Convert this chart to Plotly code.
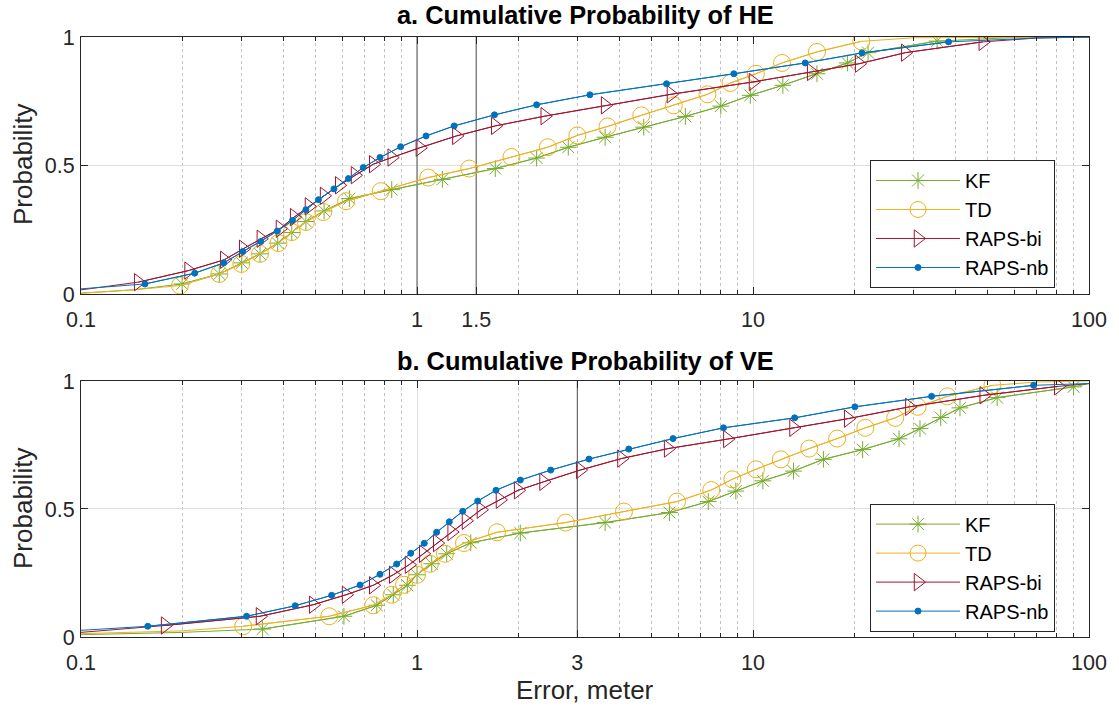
import plotly.graph_objects as go

# ---------------- data ----------------
series_names = ["KF", "TD", "RAPS-bi", "RAPS-nb"]

# a. horizontal error (HE) - marker points
he_kf_x = [0.20, 0.258, 0.301, 0.341, 0.385, 0.424, 0.467, 0.529, 0.629, 0.841, 1.19, 1.71,
           2.27, 2.82, 3.63, 4.73, 6.29, 8.02, 9.82, 12.27, 15.5, 19.1, 22.0, 35.3]
he_kf_y = [0.039, 0.078, 0.121, 0.156, 0.198, 0.239, 0.282, 0.323, 0.371, 0.406, 0.446, 0.488,
           0.529, 0.571, 0.610, 0.649, 0.691, 0.731, 0.773, 0.812, 0.857, 0.899, 0.939, 0.984]
he_td_x = [0.197, 0.258, 0.30, 0.341, 0.387, 0.424, 0.467, 0.526, 0.615, 0.78, 1.08, 1.43,
           1.91, 2.45, 3.0, 3.69, 4.65, 5.81, 7.32, 8.57, 10.2, 12.2, 15.5, 21.0]
he_td_y = [0.033, 0.078, 0.117, 0.156, 0.198, 0.241, 0.28, 0.319, 0.361, 0.40, 0.453, 0.488,
           0.533, 0.571, 0.617, 0.652, 0.695, 0.734, 0.777, 0.821, 0.857, 0.899, 0.942, 0.983]
he_bi_x = [0.148, 0.209, 0.267, 0.304, 0.343, 0.391, 0.431, 0.477, 0.529, 0.587, 0.654, 0.741,
           0.841, 1.02, 1.31, 1.71, 2.40, 3.63, 5.70, 10.0, 14.9, 20.7, 28.4, 48.3]
he_bi_y = [0.046, 0.091, 0.133, 0.176, 0.215, 0.254, 0.299, 0.341, 0.382, 0.423, 0.462, 0.505,
           0.531, 0.569, 0.615, 0.654, 0.692, 0.734, 0.777, 0.825, 0.864, 0.896, 0.939, 0.981]
he_nb_x = [0.155, 0.218, 0.266, 0.303, 0.343, 0.384, 0.426, 0.467, 0.509, 0.566, 0.625, 0.692,
           0.776, 0.894, 1.064, 1.29, 1.70, 2.27, 3.27, 5.53, 8.77, 14.3, 21.1, 38.2]
he_nb_y = [0.039, 0.081, 0.121, 0.165, 0.204, 0.245, 0.286, 0.328, 0.367, 0.409, 0.449, 0.492,
           0.531, 0.573, 0.615, 0.654, 0.697, 0.736, 0.775, 0.818, 0.857, 0.899, 0.938, 0.981]
# extra line-only points before / after the markers
he_head_x = [[0.1, 0.143], [0.1, 0.143], [0.1], [0.1]]
he_head_y = [[0.003, 0.016], [0.003, 0.016], [0.016], [0.020]]
he_tail_x = [[60, 100], [30, 100], [70, 100], [70, 100]]
he_tail_y = [[0.998, 1.0], [0.997, 1.0], [0.996, 1.0], [0.996, 1.0]]

# b. vertical error (VE) - marker points
ve_kf_x = [0.347, 0.606, 0.759, 0.85, 0.936, 1.0, 1.106, 1.226, 1.445, 2.03, 3.63, 5.64,
           7.36, 8.89, 10.7, 13.2, 16.2, 21.2, 27.2, 31.4, 36.2, 41.3, 53.3, 90.0]
ve_kf_y = [0.031, 0.081, 0.124, 0.165, 0.202, 0.243, 0.286, 0.325, 0.368, 0.406, 0.447, 0.486,
           0.529, 0.570, 0.610, 0.648, 0.694, 0.732, 0.774, 0.814, 0.857, 0.895, 0.935, 0.977]
ve_td_x = [0.304, 0.548, 0.741, 0.841, 0.915, 1.0, 1.093, 1.211, 1.38, 1.73, 2.77, 4.13,
           5.94, 7.51, 8.68, 10.2, 12.1, 14.7, 17.8, 21.6, 26.5, 30.9, 37.9, 51.6]
ve_td_y = [0.042, 0.081, 0.124, 0.165, 0.204, 0.243, 0.286, 0.325, 0.367, 0.409, 0.447, 0.490,
           0.529, 0.574, 0.616, 0.655, 0.694, 0.736, 0.775, 0.817, 0.856, 0.899, 0.940, 0.983]
ve_bi_x = [0.178, 0.341, 0.491, 0.615, 0.741, 0.85, 0.947, 1.044, 1.149, 1.268, 1.399, 1.55,
           1.766, 2.0, 2.38, 3.06, 4.06, 5.59, 8.39, 13.2, 19.2, 29.2, 48.6, 81.0]
ve_bi_y = [0.045, 0.081, 0.126, 0.165, 0.202, 0.243, 0.282, 0.325, 0.367, 0.410, 0.454, 0.497,
           0.536, 0.573, 0.606, 0.652, 0.697, 0.736, 0.773, 0.817, 0.853, 0.899, 0.944, 0.979]
ve_nb_x = [0.158, 0.311, 0.434, 0.557, 0.677, 0.776, 0.870, 0.958, 1.051, 1.144, 1.248, 1.368,
           1.516, 1.718, 2.03, 2.50, 3.25, 4.27, 5.78, 8.17, 13.3, 20.1, 34.0, 68.4]
ve_nb_y = [0.042, 0.081, 0.122, 0.163, 0.203, 0.245, 0.285, 0.327, 0.366, 0.409, 0.450, 0.491,
           0.531, 0.573, 0.613, 0.652, 0.695, 0.734, 0.775, 0.817, 0.856, 0.899, 0.940, 0.983]
ve_head_x = [[0.1, 0.2], [0.1, 0.2], [0.1], [0.1]]
ve_head_y = [[0.009, 0.018], [0.013, 0.024], [0.018], [0.026]]
ve_tail_x = [[100], [70, 100], [100], [100]]
ve_tail_y = [[0.99], [0.996, 1.0], [0.99], [0.99]]

he_ticks = [0.1, 1, 1.5, 10, 100]
he_ticktext = ["0.1", "1", "1.5", "10", "100"]
ve_ticks = [0.1, 1, 3, 10, 100]
ve_ticktext = ["0.1", "1", "3", "10", "100"]
y_ticks = [0, 0.5, 1]
y_ticktext = ["0", "0.5", "1"]
he_marklines = [1, 1.5]
ve_marklines = [3]
titles = ["a. Cumulative Probability of HE", "b. Cumulative Probability of VE"]
y_label = "Probability"
x_label = "Error, meter"

# ---------------- styles ----------------
colors = ["#77AC30", "#EDB120", "#A2142F", "#0072BD"]
symbols = ["asterisk-open", "circle-open", "triangle-right-open", "circle"]
msizes = [14, 17, 15, 6]
FONT = "Liberation Sans, Arial, Helvetica, sans-serif"
AX = "#262626"

minor_vals = [m * 10 ** e for e in (-1, 0, 1) for m in range(2, 10)]

fig = go.Figure()

panels = [
    ("x", "y", "legend", he_marklines,
     [(he_kf_x, he_kf_y), (he_td_x, he_td_y), (he_bi_x, he_bi_y), (he_nb_x, he_nb_y)],
     he_head_x, he_head_y, he_tail_x, he_tail_y),
    ("x2", "y2", "legend2", ve_marklines,
     [(ve_kf_x, ve_kf_y), (ve_td_x, ve_td_y), (ve_bi_x, ve_bi_y), (ve_nb_x, ve_nb_y)],
     ve_head_x, ve_head_y, ve_tail_x, ve_tail_y),
]

for xa, ya, lg, marks, data, hx, hy, tx, ty in panels:
    # dark reference lines (drawn first, beneath the curves)
    for v in marks:
        fig.add_trace(go.Scatter(
            x=[v, v], y=[0, 1], mode="lines", line=dict(color="#505050", width=1),
            xaxis=xa, yaxis=ya, showlegend=False, hoverinfo="skip"))
    for i, (mx, my) in enumerate(data):
        # full line
        fig.add_trace(go.Scatter(
            x=hx[i] + mx + tx[i], y=hy[i] + my + ty[i], mode="lines",
            line=dict(color=colors[i], width=1), xaxis=xa, yaxis=ya,
            showlegend=False, hoverinfo="skip"))
        # markers (with legend entry)
        fig.add_trace(go.Scatter(
            x=mx, y=my, mode="lines+markers", name=series_names[i],
            line=dict(color=colors[i], width=1),
            marker=dict(symbol=symbols[i], size=msizes[i], color=colors[i],
                        line=dict(color=colors[i], width=1)),
            xaxis=xa, yaxis=ya, legend=lg))

def xaxis_cfg(ticks, ticktext, anchor, minor_excl):
    return dict(
        type="log", range=[-1, 2], tickmode="array", tickvals=ticks, ticktext=ticktext,
        showline=True, linecolor=AX, linewidth=1, mirror="allticks",
        ticks="inside", ticklen=7, tickcolor=AX, ticklabelstandoff=6,
        tickfont=dict(family=FONT, size=21.5, color=AX),
        showgrid=True, gridcolor="#dedede", gridwidth=1, zeroline=False,
        minor=dict(tickmode="array", tickvals=[v for v in minor_vals if v not in minor_excl],
                   ticks="inside", ticklen=4, tickcolor=AX,
                   showgrid=True, gridcolor="#c2c2c2", griddash="dot", gridwidth=1),
        anchor=anchor, automargin=False)

def yaxis_cfg(domain, anchor):
    return dict(
        domain=domain, range=[0, 1], tickmode="array", tickvals=y_ticks, ticktext=y_ticktext,
        showline=True, linecolor=AX, linewidth=1, mirror="allticks",
        ticks="inside", ticklen=7, tickcolor=AX, ticklabelstandoff=1,
        tickfont=dict(family=FONT, size=21.5, color=AX),
        showgrid=True, gridcolor="#dedede", gridwidth=1, zeroline=False,
        anchor=anchor, automargin=False)

W, H = 1119, 713
ml, mr, mt, mb = 81, 30, 37, 76

legend_style = dict(xanchor="right", yanchor="bottom", bgcolor="white", bordercolor=AX,
                    borderwidth=1, itemwidth=84,
                    font=dict(family=FONT, size=20, color="black"), tracegroupgap=0)

fig.update_layout(
    width=W, height=H,
    margin=dict(l=ml, r=mr, t=mt, b=mb, autoexpand=False),
    plot_bgcolor="white", paper_bgcolor="white",
    xaxis=xaxis_cfg(he_ticks, he_ticktext, "y", []),
    yaxis=yaxis_cfg([0.5717, 1.0], "x"),
    xaxis2=xaxis_cfg(ve_ticks, ve_ticktext, "y2", [3]),
    yaxis2=yaxis_cfg([0.0, 0.4267], "x2"),
    legend=dict(x=0.9663, y=0.5817, **legend_style),
    legend2=dict(x=0.9663, y=0.009, **legend_style),
    showlegend=True,
)

plot_h = H - mt - mb
def py_to_paper(py):
    return (H - mb - py) / plot_h

def px_to_paper(px):
    return (px - ml) / (W - ml - mr)

# titles
for t, py in zip(titles, [15, 361]):
    fig.add_annotation(text="<b>%s</b>" % t, xref="paper", yref="paper",
                       x=0.5, y=py_to_paper(py), showarrow=False,
                       font=dict(family=FONT, size=25.4, color="black"),
                       xanchor="center", yanchor="middle")
# y labels
for py in [165, 509]:
    fig.add_annotation(text=y_label, xref="paper", yref="paper",
                       x=px_to_paper(23), y=py_to_paper(py), showarrow=False, textangle=-90,
                       font=dict(family=FONT, size=26, color=AX),
                       xanchor="center", yanchor="middle")
# x label
fig.add_annotation(text=x_label, xref="paper", yref="paper",
                   x=0.5, y=py_to_paper(690), showarrow=False,
                   font=dict(family=FONT, size=26, color=AX),
                   xanchor="center", yanchor="middle")

fig.write_html("out.html", config={"displayModeBar": False},
               post_script="document.body.style.margin='0';document.body.style.overflow='hidden';")
